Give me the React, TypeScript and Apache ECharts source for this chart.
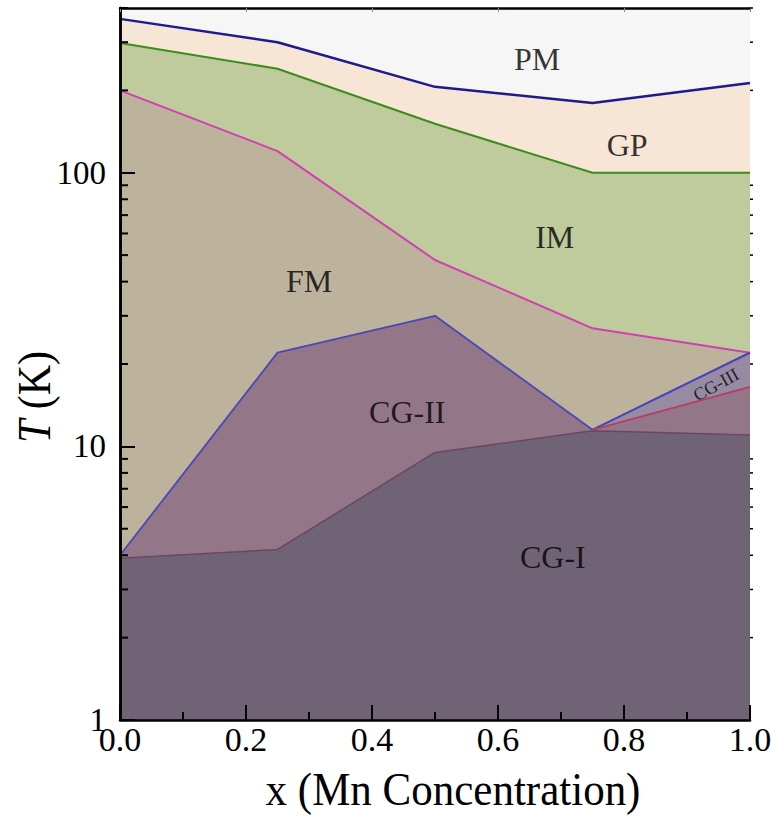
import React, { useEffect, useRef } from "react";
import * as echarts from "echarts";

// Mn concentration x
const xs = [0, 0.25, 0.5, 0.75, 1.0];
// Phase boundaries (K)
const pmBoundary = [365, 300, 206, 180, 213];
const gpBoundary = [298, 240, 151, 100, 100];
const imBoundary = [200, 120, 48, 27, 22];
const fmBoundary = [4, 22, 30, 11.5, 22];
const cg1Boundary = [3.9, 4.2, 9.5, 11.4, 11];
const cg3Xs = [0.75, 1.0];
const cg3Upper = [11.5, 22];
const cg3Lower = [11.5, 16.5];

const yMinorTicks = [2, 3, 4, 5, 6, 7, 8, 9, 20, 30, 40, 50, 60, 70, 80, 90, 200, 300, 400];

const regionNames = ["PM", "GP", "IM", "FM", "CG-II", "CG-I"];
const regionX = [0.662, 0.805, 0.69, 0.3, 0.456, 0.687];
const regionY = [261, 126, 58, 40.3, 13.3, 3.94];
const cg3Label = { name: "CG-III", x: 0.946, y: 16.8 };

const FONT = "'Liberation Serif', 'Times New Roman', serif";

const pairs = (a: number[], b: number[]) => a.map((v, i) => [v, b[i]]);

export default function App() {
  const ref = useRef<HTMLDivElement>(null);
  useEffect(() => {
    if (!ref.current) return;
    const chart = echarts.init(ref.current, null, { renderer: "svg" });
    const areaLine = (name: string, data: number[][], line: string, fill: string, w = 2) => ({
      name,
      type: "line",
      data,
      symbol: "none",
      lineStyle: { color: line, width: w },
      areaStyle: { color: fill, opacity: 1, origin: "start" },
      silent: true,
    });
    chart.setOption({
      animation: false,
      textStyle: { fontFamily: FONT },
      grid: {
        left: 120,
        right: 27,
        top: 8,
        bottom: 100,
        show: true,
        backgroundColor: "#f6f6f7",
        borderWidth: 0,
      },
      xAxis: [
        {
          type: "value",
          min: 0,
          max: 1,
          interval: 0.2,
          z: 10,
          axisLine: { show: true, lineStyle: { color: "#000", width: 2.5 } },
          axisTick: { show: true, inside: true, length: 15, lineStyle: { color: "#000", width: 2 } },
          minorTick: { show: true, splitNumber: 2, length: 8, lineStyle: { color: "#000", width: 2 } },
          splitLine: { show: false },
          axisLabel: {
            formatter: (v: number) => v.toFixed(1),
            fontFamily: FONT,
            fontSize: 34,
            color: "#000",
            margin: 2,
          },
        },
        {
          type: "value",
          position: "top",
          min: 0,
          max: 1,
          interval: 0.2,
          z: 10,
          axisLine: { show: true, lineStyle: { color: "#000", width: 2.5 } },
          axisTick: { show: true, inside: true, length: 4, lineStyle: { color: "#888", width: 1 } },
          splitLine: { show: false },
          axisLabel: { show: false },
        },
      ],
      yAxis: [
        {
          type: "log",
          logBase: 10,
          min: 1,
          max: 400,
          z: 10,
          axisLine: { show: true, lineStyle: { color: "#000", width: 2.5 } },
          axisTick: { show: true, inside: true, length: 15, lineStyle: { color: "#000", width: 2 } },
          splitLine: { show: false },
          axisLabel: {
            showMaxLabel: false,
            formatter: (v: number) => String(Math.round(v)),
            fontFamily: FONT,
            fontSize: 33,
            color: "#000",
            margin: 14,
          },
        },
        {
          type: "log",
          logBase: 10,
          min: 1,
          max: 400,
          position: "right",
          z: 10,
          axisLine: { show: true, lineStyle: { color: "#000", width: 2.5 } },
          axisTick: { show: true, inside: false, length: 3, lineStyle: { color: "#000", width: 1.5 } },
          splitLine: { show: false },
          axisLabel: { show: false },
        },
      ],
      series: [
        areaLine("PM", pairs(xs, pmBoundary), "#1c1c8c", "#f7e5d6", 2.5),
        areaLine("GP", pairs(xs, gpBoundary), "#3c8c1c", "#bfca9d", 2),
        areaLine("IM", pairs(xs, imBoundary), "#d040b0", "#bdb39c", 2),
        areaLine("FM", pairs(xs, fmBoundary), "#4a48b8", "#947689", 1.8),
        areaLine("CG-III", pairs(cg3Xs, cg3Upper), "#4a48b8", "#978ba3", 1.8),
        areaLine("CG-III low", pairs(cg3Xs, cg3Lower), "#b83c64", "#947689", 1.8),
        areaLine("CG-I", pairs(xs, cg1Boundary), "#6a4860", "#6f6375", 1.5),
        {
          type: "custom",
          silent: true,
          clip: false,
          z: 12,
          data: yMinorTicks.map((v) => [0, v]),
          renderItem: (_p: any, api: any) => {
            const v = api.value(1);
            const a = api.coord([0, v]);
            const b = api.coord([1, v]);
            return {
              type: "group",
              children: [
                { type: "line", shape: { x1: a[0], y1: a[1], x2: a[0] + 8, y2: a[1] }, style: { stroke: "#000", lineWidth: 2 } },
                { type: "line", shape: { x1: b[0], y1: b[1], x2: b[0] + 3, y2: b[1] }, style: { stroke: "#000", lineWidth: 1.5 } },
              ],
            };
          },
        },
        {
          type: "scatter",
          silent: true,
          symbolSize: 0,
          z: 15,
          data: regionNames.map((n, i) => ({ name: n, value: [regionX[i], regionY[i]] })),
          label: {
            show: true,
            position: "inside",
            formatter: (p: any) => p.name,
            fontFamily: FONT,
            fontSize: 32,
            color: "#000",
          },
        },
        {
          type: "scatter",
          silent: true,
          symbolSize: 0,
          z: 15,
          data: [{ name: cg3Label.name, value: [cg3Label.x, cg3Label.y] }],
          label: {
            show: true,
            position: "inside",
            rotate: 29,
            formatter: (p: any) => p.name,
            fontFamily: FONT,
            fontSize: 18,
            color: "#000",
          },
        },
      ],
      graphic: [
        {
          type: "text",
          x: 453,
          y: 789,
          scaleY: 1.1,
          style: {
            text: "x (Mn Concentration)",
            fontFamily: FONT,
            fontSize: 43,
            fill: "#000",
            textAlign: "center",
            textVerticalAlign: "middle",
          },
        },
        {
          type: "text",
          x: 35,
          y: 397,
          rotation: Math.PI / 2,
          scaleY: 1.1,
          style: {
            text: "{i|T} (K)",
            fontFamily: FONT,
            fontSize: 42,
            fill: "#000",
            textAlign: "center",
            textVerticalAlign: "middle",
            rich: {
              i: { fontFamily: FONT, fontSize: 42, fontStyle: "italic", fill: "#000" },
            },
          },
        },
      ],
    });
    return () => chart.dispose();
  }, []);
  return <div ref={ref} style={{ width: 777, height: 820, position: "absolute", left: 0, top: 0 }} />;
}
